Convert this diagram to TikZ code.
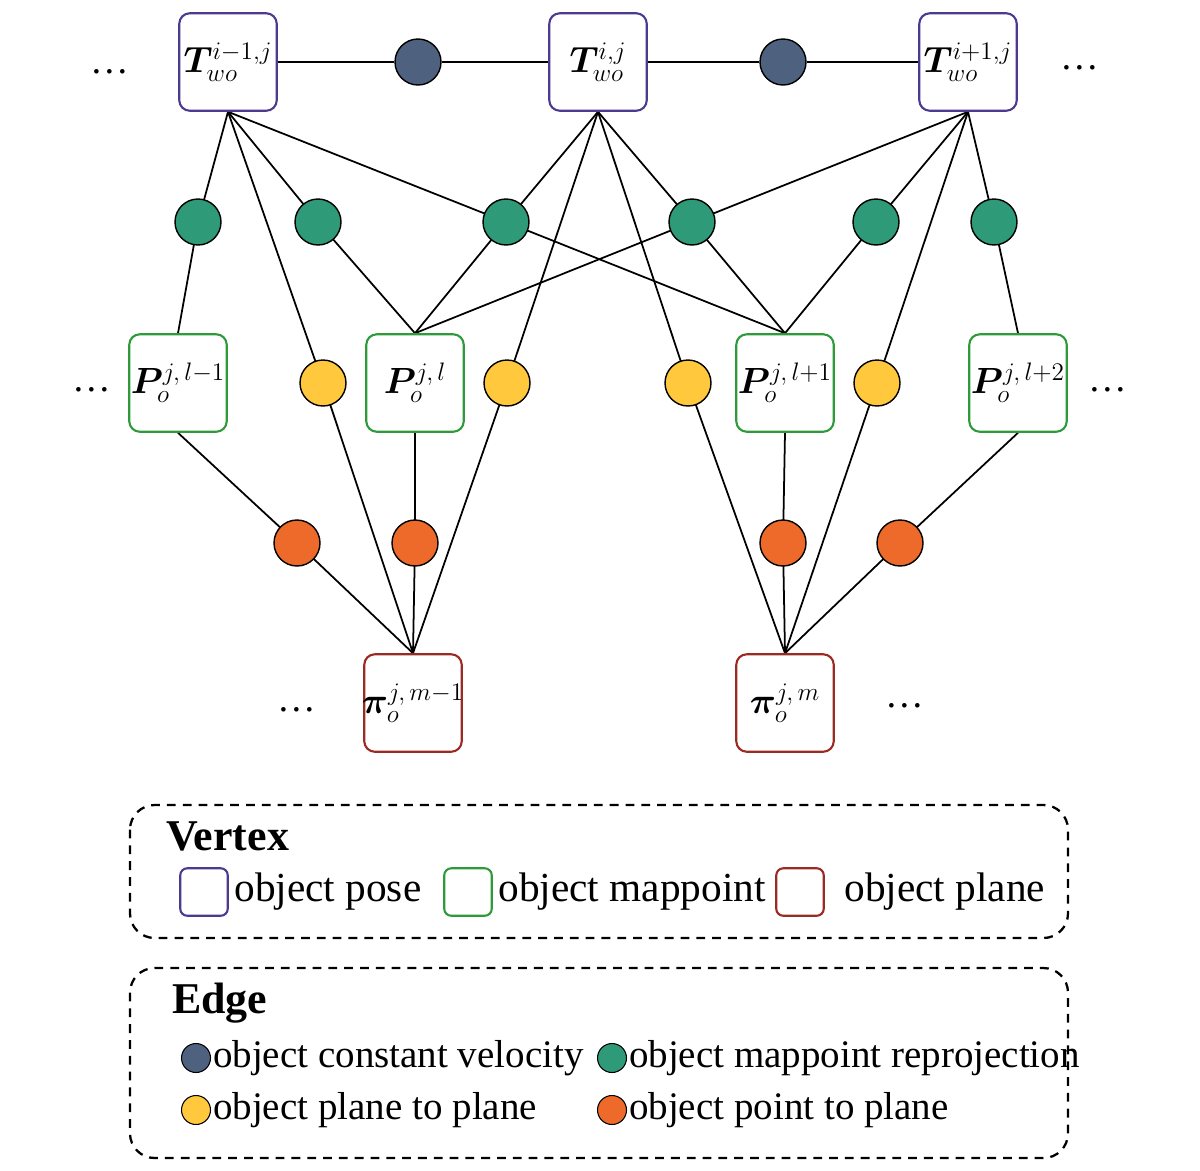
\documentclass[tikz,border=0pt]{standalone}
\usepackage{fontspec}
\setmainfont{Liberation Serif}
\usepackage{amsmath,bm}
\usetikzlibrary{backgrounds}
\definecolor{poseC}{HTML}{4B3A8F}
\definecolor{pointC}{HTML}{2E9A3A}
\definecolor{planeC}{HTML}{9B2A22}
\definecolor{velC}{HTML}{4E6280}
\definecolor{reprojC}{HTML}{2E9A78}
\definecolor{ppC}{HTML}{FFC83D}
\definecolor{ptplC}{HTML}{EE6A2A}
\tikzset{
    vbox/.style 2 args={draw=#1, line width=1.2pt, rounded corners=6pt, minimum size=1.95cm, inner sep=0pt,
        label={[font=\fontsize{21}{23}\selectfont, inner sep=0pt]center:#2}},
    fac/.style={circle, draw=black, line width=0.8pt, fill=#1, minimum size=0.92cm, inner sep=0pt},
    lbox/.style={draw=#1, line width=1.2pt, rounded corners=4pt, minimum size=0.95cm, inner sep=0pt},
    ldot/.style={circle, draw=black, line width=0.6pt, fill=#1, minimum size=0.58cm, inner sep=0pt},
    ltxt/.style={anchor=west, font=\fontsize{23.5}{25}\selectfont, inner sep=1pt},
    etxt/.style={anchor=west, font=\fontsize{22.2}{24}\selectfont, inner sep=1pt},
    edge/.style={line width=1pt},
    legframe/.style={draw, dash pattern=on 5pt off 4pt, line width=1.3pt, rounded corners=14pt}
}
\begin{document}
\begin{tikzpicture}[x={0.02cm}, y={-0.02cm}]
    \useasboundingbox (0,0) rectangle (1200,1170);

    % Posen
    \node[vbox={poseC}{$\bm{T}_{wo}^{i-1,j}$}] (T1) at (228,62) {};
    \node[vbox={poseC}{$\bm{T}_{wo}^{i,j}$}] (T2) at (598,62) {};
    \node[vbox={poseC}{$\bm{T}_{wo}^{i+1,j}$}] (T3) at (968,62) {};
    \node[fac=velC] (v1) at (418,62) {};
    \node[fac=velC] (v2) at (783,62) {};

    % Punkte
    \node[vbox={pointC}{$\bm{P}_{o}^{j,\,l-1}$}] (P1) at (178,383) {};
    \node[vbox={pointC}{$\bm{P}_{o}^{j,\,l}$}] (P2) at (415,383) {};
    \node[vbox={pointC}{$\bm{P}_{o}^{j,\,l+1}$}] (P3) at (785,383) {};
    \node[vbox={pointC}{$\bm{P}_{o}^{j,\,l+2}$}] (P4) at (1018,383) {};

    % Ebenen
    \node[vbox={planeC}{$\bm{\pi}_{o}^{j,\,m-1}$}] (E1) at (413,703) {};
    \node[vbox={planeC}{$\bm{\pi}_{o}^{j,\,m}$}] (E2) at (785,703) {};

    % Faktoren
    \foreach \x [count=\i] in {198,318,506,692,876,994}
        \node[fac=reprojC] (g\i) at (\x,222) {};
    \foreach \x [count=\i] in {323,507,688,877}
        \node[fac=ppC] (y\i) at (\x,383) {};
    \foreach \x [count=\i] in {297,415,783,900}
        \node[fac=ptplC] (o\i) at (\x,543) {};

    % Kanten
    \begin{scope}[on background layer]
        \draw[edge] (T1) -- (v1) -- (T2) -- (v2) -- (T3);
        \foreach \t/\g/\p in {T1/g1/P1, T1/g2/P2, T1/g3/P3, T2/g3/P2, T2/g4/P3, T3/g4/P2, T3/g5/P3, T3/g6/P4}
            \draw[edge] (\t.south) -- (\g.center) -- (\p.north);
        \foreach \t/\y/\e in {T1/y1/E1, T2/y2/E1, T2/y3/E2, T3/y4/E2}
            \draw[edge] (\t.south) -- (\y.center) -- (\e.north);
        \foreach \p/\o/\e in {P1/o1/E1, P2/o2/E1, P3/o3/E2, P4/o4/E2}
            \draw[edge] (\p.south) -- (\o.center) -- (\e.north);
    \end{scope}

    % Punkte ...
    \foreach \x/\y in {110/72, 1080/68, 92/390, 1108/390, 297/710, 905/706}
        \node[font=\fontsize{22}{24}\selectfont] at (\x,\y) {\dots};

    % Legende
    \draw[legframe] (130,805) rectangle (1068,938);
    \node[anchor=west, font=\fontsize{25}{27}\selectfont\bfseries] at (160,836) {Vertex};
    \node[lbox=poseC] (lp) at (204,892) {};
    \node[ltxt] at ([xshift=2pt]lp.east) {object pose};
    \node[lbox=pointC] (lm) at (468,892) {};
    \node[ltxt] at ([xshift=2pt]lm.east) {object mappoint};
    \node[lbox=planeC] (le) at (800,892) {};
    \node[ltxt] at ([xshift=10pt]le.east) {object plane};

    \draw[legframe] (130,968) rectangle (1068,1158);
    \node[anchor=west, font=\fontsize{25}{27}\selectfont\bfseries] at (166,1003) {Edge};
    \node[ldot=velC] (lv) at (196,1058) {};
    \node[etxt] at (lv.east) {object constant velocity};
    \node[ldot=reprojC] (lr) at (612,1058) {};
    \node[etxt] at (lr.east) {object mappoint reprojection};
    \node[ldot=ppC] (ly) at (196,1110) {};
    \node[etxt] at (ly.east) {object plane to plane};
    \node[ldot=ptplC] (lo) at (612,1110) {};
    \node[etxt] at (lo.east) {object point to plane};
\end{tikzpicture}
\end{document}
